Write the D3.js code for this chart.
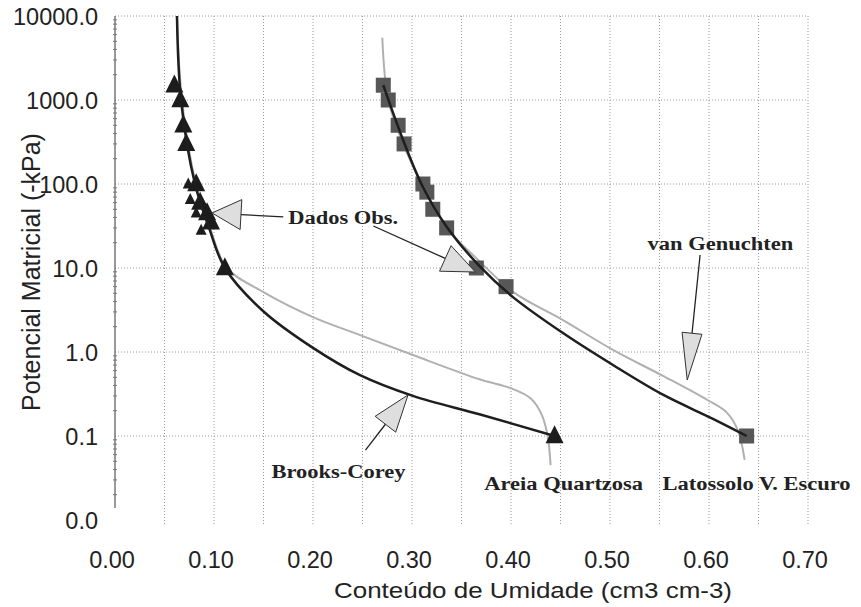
<!DOCTYPE html>
<html>
<head>
<meta charset="utf-8">
<script src="https://cdn.jsdelivr.net/npm/d3@7"></script>
<style>
  body { margin: 0; background: #fff; }
  svg { display: block; }
</style>
</head>
<body>
<svg id="chart"></svg>
<script>
// observed data, [theta (cm3 cm-3), potential (-kPa)]
var areiaObs = [[0.060, 1500], [0.066, 1000], [0.069, 500], [0.072, 300], [0.082, 100],
  [0.086, 60], [0.093, 45], [0.097, 35], [0.111, 10], [0.444, 0.1]];
var areiaObsRep = [[0.074, 100], [0.076, 65], [0.082, 45], [0.087, 28]];
var latossoloObs = [[0.271, 1500], [0.276, 1000], [0.286, 500], [0.292, 300], [0.311, 100],
  [0.315, 80], [0.321, 50], [0.335, 30], [0.365, 10], [0.395, 6], [0.638, 0.1]];

// fitted curves
var areiaBrooks = [[0.0626, 10000], [0.0667, 1000], [0.0808, 100], [0.095, 30], [0.111, 10],
  [0.1495, 3.08], [0.200, 1.12], [0.2475, 0.53], [0.301, 0.30], [0.369, 0.18], [0.444, 0.1]];
var areiaGenuchten = [[0.0626, 10000], [0.0677, 1000], [0.0818, 100], [0.096, 30], [0.113, 10],
  [0.1495, 5.2], [0.200, 2.6], [0.2475, 1.59], [0.301, 0.92], [0.369, 0.47], [0.400, 0.37],
  [0.420, 0.28], [0.431, 0.18], [0.437, 0.10], [0.440, 0.045]];
var latossoloBrooks = [[0.271, 1500], [0.291, 334], [0.311, 92], [0.335, 31], [0.369, 10.3],
  [0.402, 4.5], [0.4525, 1.68], [0.503, 0.70], [0.5535, 0.31], [0.604, 0.16], [0.638, 0.1]];
var latossoloGenuchten = [[0.270, 5500], [0.276, 1000], [0.291, 300], [0.310, 100], [0.335, 30],
  [0.367, 12.4], [0.402, 5.2], [0.4525, 2.4], [0.503, 1.06], [0.5535, 0.52], [0.598, 0.27],
  [0.618, 0.19], [0.629, 0.118], [0.636, 0.052]];

var xTicks = [0, 0.1, 0.2, 0.3, 0.4, 0.5, 0.6, 0.7];
var xGrid = [0.05, 0.1, 0.15, 0.2, 0.25, 0.3, 0.35, 0.4, 0.45, 0.5, 0.55, 0.6, 0.65, 0.7];
var yTicks = [0.01, 0.1, 1, 10, 100, 1000, 10000];

// annotation labels and arrows (tail -> tip), in data units
var labels = [
  { text: "Dados Obs.", at: [0.175, 33.4] },
  { text: "van Genuchten", at: [0.538, 16.4] },
  { text: "Brooks-Corey", at: [0.158, 0.0316] },
  { text: "Areia Quartzosa", at: [0.373, 0.0228] },
  { text: "Latossolo V. Escuro", at: [0.553, 0.0228] }
];
var arrows = [
  { from: [0.170, 40.5], to: [0.098, 45.2], len: 29, half: 15 },
  { from: [0.261, 31.6], to: [0.364, 8.96], len: 33, half: 14 },
  { from: [0.591, 14.3], to: [0.578, 0.464], len: 47, half: 10 },
  { from: [0.253, 0.068], to: [0.296, 0.308], len: 37, half: 13 }
];

var width = 861, height = 607;

var svg = d3.select("#chart")
  .attr("width", width)
  .attr("height", height);

var x = d3.scaleLinear().domain([0, 0.7]).range([115, 808]);
var y = d3.scaleLog().domain([0.01, 10000]).range([520, 16]);

// grid
svg.append("g")
  .attr("class", "grid-x")
  .selectAll("line")
  .data(xGrid)
  .enter()
  .append("line")
  .attr("x1", function (d) { return x(d); })
  .attr("x2", function (d) { return x(d); })
  .attr("y1", y(10000))
  .attr("y2", 525)
  .style("stroke", "#9a9a9a")
  .style("stroke-width", 1)
  .style("stroke-dasharray", "1,2");

svg.append("g")
  .attr("class", "grid-y")
  .selectAll("line")
  .data(yTicks.filter(function (d) { return d >= 0.1; }))
  .enter()
  .append("line")
  .attr("x1", x(0))
  .attr("x2", x(0.7))
  .attr("y1", function (d) { return y(d); })
  .attr("y2", function (d) { return y(d); })
  .style("stroke", "#9a9a9a")
  .style("stroke-width", 1)
  .style("stroke-dasharray", "1,2");

// y axis line with minor log ticks
svg.append("line")
  .attr("x1", x(0)).attr("x2", x(0))
  .attr("y1", y(10000)).attr("y2", 508)
  .style("stroke", "#555")
  .style("stroke-width", 1.2);

var minor = [];
yTicks.slice(0, -1).forEach(function (d) {
  for (var k = 2; k <= 9; k++) minor.push(d * k);
});
svg.append("g")
  .selectAll("line")
  .data(minor)
  .enter()
  .append("line")
  .attr("x1", x(0) - 2).attr("x2", x(0) + 2)
  .attr("y1", function (d) { return y(d); })
  .attr("y2", function (d) { return y(d); })
  .style("stroke", "#777");

// tick labels
svg.append("g")
  .selectAll("text")
  .data(yTicks)
  .enter()
  .append("text")
  .attr("x", 98)
  .attr("y", function (d) { return y(d) + 9; })
  .attr("text-anchor", "end")
  .style("font-family", "Liberation Sans, Arial, sans-serif")
  .style("font-size", "23.5px")
  .style("fill", "#222")
  .text(function (d) { return d3.format(".1f")(d); });

svg.append("g")
  .selectAll("text")
  .data(xTicks)
  .enter()
  .append("text")
  .attr("x", function (d) { return x(d) - 3; })
  .attr("y", 568)
  .attr("text-anchor", "middle")
  .style("font-family", "Liberation Sans, Arial, sans-serif")
  .style("font-size", "23.5px")
  .style("fill", "#222")
  .text(function (d) { return d3.format(".2f")(d); });

// axis titles
svg.append("text")
  .attr("transform", "translate(533,598) scale(1.18,1)")
  .attr("text-anchor", "middle")
  .style("font-family", "Liberation Sans, Arial, sans-serif")
  .style("font-size", "22px")
  .style("fill", "#222")
  .text("Conteúdo de Umidade (cm3 cm-3)");

svg.append("text")
  .attr("transform", "translate(40,272) rotate(-90)")
  .attr("text-anchor", "middle")
  .style("font-family", "Liberation Sans, Arial, sans-serif")
  .style("font-size", "25px")
  .style("fill", "#222")
  .text("Potencial Matricial (-kPa)");

// curves
var line = d3.line()
  .x(function (d) { return x(d[0]); })
  .y(function (d) { return y(d[1]); })
  .curve(d3.curveCatmullRom.alpha(0.5));

[areiaGenuchten, latossoloGenuchten].forEach(function (c) {
  svg.append("path")
    .attr("d", line(c))
    .style("fill", "none")
    .style("stroke", "#b0b0b0")
    .style("stroke-width", 2);
});

// squares
svg.append("g")
  .selectAll("rect")
  .data(latossoloObs)
  .enter()
  .append("rect")
  .attr("x", function (d) { return x(d[0]) - 7.5; })
  .attr("y", function (d) { return y(d[1]) - 7.5; })
  .attr("width", 15)
  .attr("height", 15)
  .style("fill", "#575757");

// triangles
var tri = function (s) {
  return "M0," + (-0.6 * s) + "L" + (0.5 * s) + "," + (0.4 * s) + "L" + (-0.5 * s) + "," + (0.4 * s) + "Z";
};
svg.append("g")
  .selectAll("path")
  .data(areiaObs)
  .enter()
  .append("path")
  .attr("transform", function (d) { return "translate(" + x(d[0]) + "," + y(d[1]) + ")"; })
  .attr("d", tri(18))
  .style("fill", "#1c1c1c");

svg.append("g")
  .selectAll("path")
  .data(areiaObsRep)
  .enter()
  .append("path")
  .attr("transform", function (d) { return "translate(" + x(d[0]) + "," + y(d[1]) + ")"; })
  .attr("d", tri(11))
  .style("fill", "#1c1c1c");

[areiaBrooks, latossoloBrooks].forEach(function (c) {
  svg.append("path")
    .attr("d", line(c))
    .style("fill", "none")
    .style("stroke", "#1e1e1e")
    .style("stroke-width", 2.5);
});

// arrows
arrows.forEach(function (a) {
  var x0 = x(a.from[0]), y0 = y(a.from[1]);
  var x1 = x(a.to[0]), y1 = y(a.to[1]);
  var dx = x1 - x0, dy = y1 - y0, L = Math.sqrt(dx * dx + dy * dy);
  var ux = dx / L, uy = dy / L;
  var bx = x1 - ux * a.len, by = y1 - uy * a.len;

  svg.append("line")
    .attr("x1", x0).attr("y1", y0)
    .attr("x2", bx).attr("y2", by)
    .style("stroke", "#222")
    .style("stroke-width", 1.3);

  svg.append("path")
    .attr("d", "M" + x1 + "," + y1 +
      "L" + (bx - uy * a.half) + "," + (by + ux * a.half) +
      "L" + (bx + uy * a.half) + "," + (by - ux * a.half) + "Z")
    .style("fill", "#dedede")
    .style("stroke", "#333")
    .style("stroke-width", 1);
});

// labels (the scan stretches this serif text horizontally)
labels.forEach(function (l) {
  svg.append("text")
    .attr("transform", "translate(" + x(l.at[0]) + "," + y(l.at[1]) + ") scale(1.25,1)")
    .style("font-family", "Liberation Serif, Times New Roman, serif")
    .style("font-weight", "bold")
    .style("font-size", "18px")
    .style("fill", "#222")
    .text(l.text);
});
</script>
</body>
</html>
